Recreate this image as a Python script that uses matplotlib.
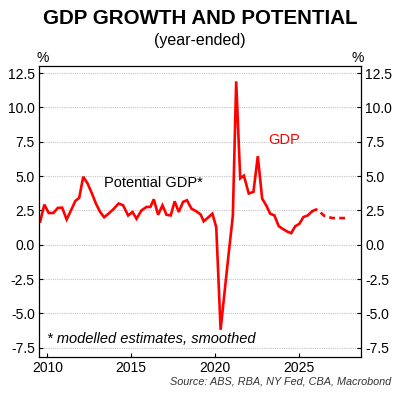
import matplotlib
matplotlib.use("Agg")
import matplotlib.pyplot as plt

plt.rcParams['font.family'] = ['Liberation Sans', 'DejaVu Sans']

# GDP, year-ended % (actuals)
years = [2009.57, 2009.82, 2010.08, 2010.36, 2010.62, 2010.88, 2011.15, 2011.41,
         2011.67, 2011.90, 2012.14, 2012.40, 2012.66, 2012.90, 2013.15, 2013.39,
         2013.65, 2013.93, 2014.25, 2014.52, 2014.82, 2015.08, 2015.32, 2015.62,
         2015.92, 2016.15, 2016.35, 2016.61, 2016.87, 2017.11, 2017.36, 2017.60,
         2017.84, 2018.10, 2018.33, 2018.60, 2018.89, 2019.15, 2019.33, 2019.85,
         2020.08, 2020.34, 2020.59, 2020.83, 2021.07, 2021.27, 2021.51, 2021.73,
         2022.02, 2022.30, 2022.56, 2022.82, 2023.06, 2023.30, 2023.55, 2023.81,
         2024.05, 2024.31, 2024.55, 2024.80, 2025.04, 2025.28, 2025.54, 2025.80]
gdp = [1.69, 2.92, 2.31, 2.31, 2.68, 2.70, 1.84, 2.50,
       3.19, 3.41, 4.95, 4.46, 3.73, 2.99, 2.38, 2.00,
       2.26, 2.57, 3.00, 2.87, 2.13, 2.38, 1.89, 2.50,
       2.75, 2.75, 3.31, 2.18, 2.87, 2.18, 2.13, 3.16,
       2.38, 3.12, 3.24, 2.63, 2.43, 2.20, 1.70, 2.26,
       1.28, -6.20, -3.30, -0.55, 2.10, 11.90, 4.83, 5.03,
       3.73, 3.85, 6.45, 3.36, 2.87, 2.26, 2.13, 1.35,
       1.15, 0.96, 0.84, 1.35, 1.52, 2.01, 2.13, 2.43]

# forecast (dashed)
fc_years = [2025.80, 2026.04, 2026.27, 2026.53, 2026.79, 2027.02, 2027.26, 2027.52, 2027.78]
fc_gdp = [2.43, 2.57, 2.38, 2.10, 2.01, 1.94, 1.94, 1.94, 1.94]

yticks = [12.5, 10.0, 7.5, 5.0, 2.5, 0.0, -2.5, -5.0, -7.5]
xticks = [2010, 2015, 2020, 2025]

fig = plt.figure(figsize=(4, 3.94), dpi=100)
ax = fig.add_axes([0.0975, 0.0947, 0.805, 0.7385])

ax.plot(years, gdp, color='#ff0000', lw=1.9, solid_joinstyle='miter')
ax.plot(fc_years, fc_gdp, color='#ff0000', lw=1.9, linestyle=(0, (2.2, 1.6)))

ax.set_xlim(2009.5, 2028.72)
ax.set_ylim(-8.16, 13.04)
ax.set_xticks(xticks)
ax.set_yticks(yticks)
ax.set_yticklabels([f"{v:.1f}" for v in yticks])
ax.grid(axis='y', color='#c4c4c4', linestyle=(0, (1, 1)), lw=0.8)
ax.set_axisbelow(True)

ax.tick_params(axis='both', direction='in', length=3, width=0.8, labelsize=10,
               colors='black')
ax.tick_params(axis='y', right=True, labelright=True, pad=3)
ax.tick_params(axis='x', pad=3)
for s in ax.spines.values():
    s.set_linewidth(0.9)
    s.set_color('black')

fig.text(0.5, 0.953, "GDP GROWTH AND POTENTIAL", ha='center', va='center',
         fontsize=14.8, fontweight='bold')
fig.text(0.5, 0.896, "(year-ended)", ha='center', va='center', fontsize=11.5)
fig.text(0.107, 0.852, "%", ha='center', va='center', fontsize=10)
fig.text(0.893, 0.852, "%", ha='center', va='center', fontsize=10)

ax.text(2013.4, 4.5, "Potential GDP*", ha='left', va='center', fontsize=10.5)
ax.text(2024.15, 7.65, "GDP", ha='center', va='center', fontsize=10.5, color='#ff0000')
ax.text(2010.0, -6.9, "* modelled estimates, smoothed", ha='left', va='center',
        fontsize=10.5, style='italic')
fig.text(0.978, 0.032, "Source: ABS, RBA, NY Fed, CBA, Macrobond", ha='right',
         va='center', fontsize=7.8, style='italic', color='#333333')

fig.savefig('out.png', dpi=100)
